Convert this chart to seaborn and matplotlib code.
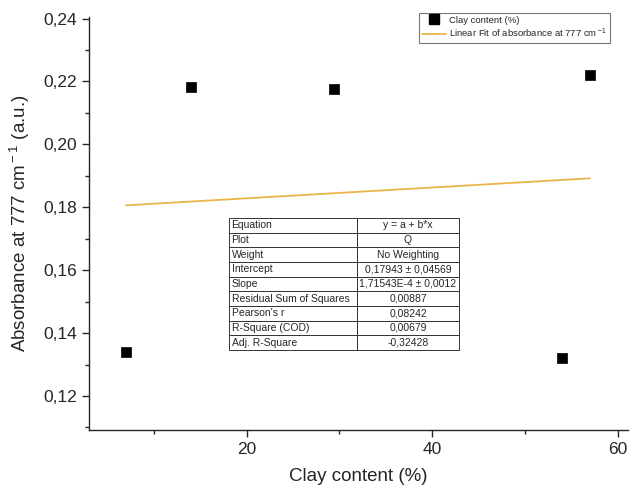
import numpy as np
import pandas as pd
import matplotlib
matplotlib.use('Agg')
import matplotlib.pyplot as plt
import seaborn as sns
from matplotlib.ticker import MultipleLocator, FuncFormatter
from matplotlib.lines import Line2D

clay = [7.0, 14.0, 29.4, 54.0, 57.0]
absorbance = [0.134, 0.2183, 0.2175, 0.1321, 0.2220]

intercept = 0.17943
slope = 1.71543e-4

fit_labels = ['Equation', 'Plot', 'Weight', 'Intercept', 'Slope',
              'Residual Sum of Squares', "Pearson's r", 'R-Square (COD)', 'Adj. R-Square']
fit_values = ['y = a + b*x', 'Q', 'No Weighting', '0,17943 ± 0,04569',
              '1,71543E-4 ± 0,0012', '0,00887', '0,08242', '0,00679', '-0,32428']

sns.set_style('ticks')
plt.rcParams['font.family'] = ['Liberation Sans', 'DejaVu Sans']
plt.rcParams['mathtext.fontset'] = 'custom'
plt.rcParams['mathtext.rm'] = 'Liberation Sans'
plt.rcParams['mathtext.it'] = 'Liberation Sans:italic'
plt.rcParams['mathtext.bf'] = 'Liberation Sans:bold'

fit_color = '#EBB54A'

df = pd.DataFrame({'clay': clay, 'abs': absorbance})
x_fit = np.array([min(clay), max(clay)])
df_fit = pd.DataFrame({'clay': x_fit, 'abs': intercept + slope * x_fit})

fig = plt.figure(figsize=(6.43, 4.97), dpi=100)
ax = fig.add_axes([89 / 643, 67 / 497, (628 - 89) / 643, (430 - 17) / 497])

sns.scatterplot(data=df, x='clay', y='abs', marker='s', s=45, color='black',
                edgecolor='black', linewidth=0.5, ax=ax, zorder=3)
sns.lineplot(data=df_fit, x='clay', y='abs', color=fit_color, linewidth=1.3, ax=ax)

ax.set_xlim(3, 61.1)
ax.set_ylim(0.1092, 0.2405)
ax.xaxis.set_major_locator(MultipleLocator(20))
ax.xaxis.set_minor_locator(MultipleLocator(10))
ax.yaxis.set_major_locator(MultipleLocator(0.02))
ax.yaxis.set_minor_locator(MultipleLocator(0.01))
ax.yaxis.set_major_formatter(FuncFormatter(lambda v, p: f'{v:.2f}'.replace('.', ',')))
ax.tick_params(which='major', direction='out', length=5, width=1, labelsize=12.5)
ax.tick_params(which='minor', direction='out', length=3, width=1)
sns.despine(ax=ax)
for s in ['left', 'bottom']:
    ax.spines[s].set_linewidth(1)

ax.set_xlabel('Clay content (%)', fontsize=13.5, labelpad=8)
ax.set_ylabel('Absorbance at 777 cm$^{\\rm -1}$ (a.u.)', fontsize=13.5, labelpad=8)

handles = [Line2D([], [], marker='s', color='black', linestyle='none', markersize=6.5),
           Line2D([], [], color=fit_color, linewidth=1.3)]
leg = ax.legend(handles, ['Clay content (%)', 'Linear Fit of absorbance at 777 cm$^{\\rm -1}$'],
                loc='upper right', bbox_to_anchor=(0.967, 1.01), fontsize=6.8,
                frameon=True, fancybox=False, edgecolor='#555555',
                handlelength=2.6, borderpad=0.3, labelspacing=0.25, handletextpad=0.3,
                borderaxespad=0)
leg.get_frame().set_linewidth(0.8)

tab = ax.table(cellText=[[a, b] for a, b in zip(fit_labels, fit_values)],
               cellLoc='center', colWidths=[128 / 539, 102 / 539],
               bbox=[(229 - 89) / 539, (430 - 350) / 413, 230 / 539, 132 / 413])
tab.auto_set_font_size(False)
tab.set_fontsize(7.5)
for (r, c), cell in tab.get_celld().items():
    cell.set_linewidth(0.7)
    cell.set_edgecolor('#333333')
    if c == 0:
        cell.set_text_props(ha='left')
        cell.PAD = 0.02

plt.savefig('out.png', dpi=100)
